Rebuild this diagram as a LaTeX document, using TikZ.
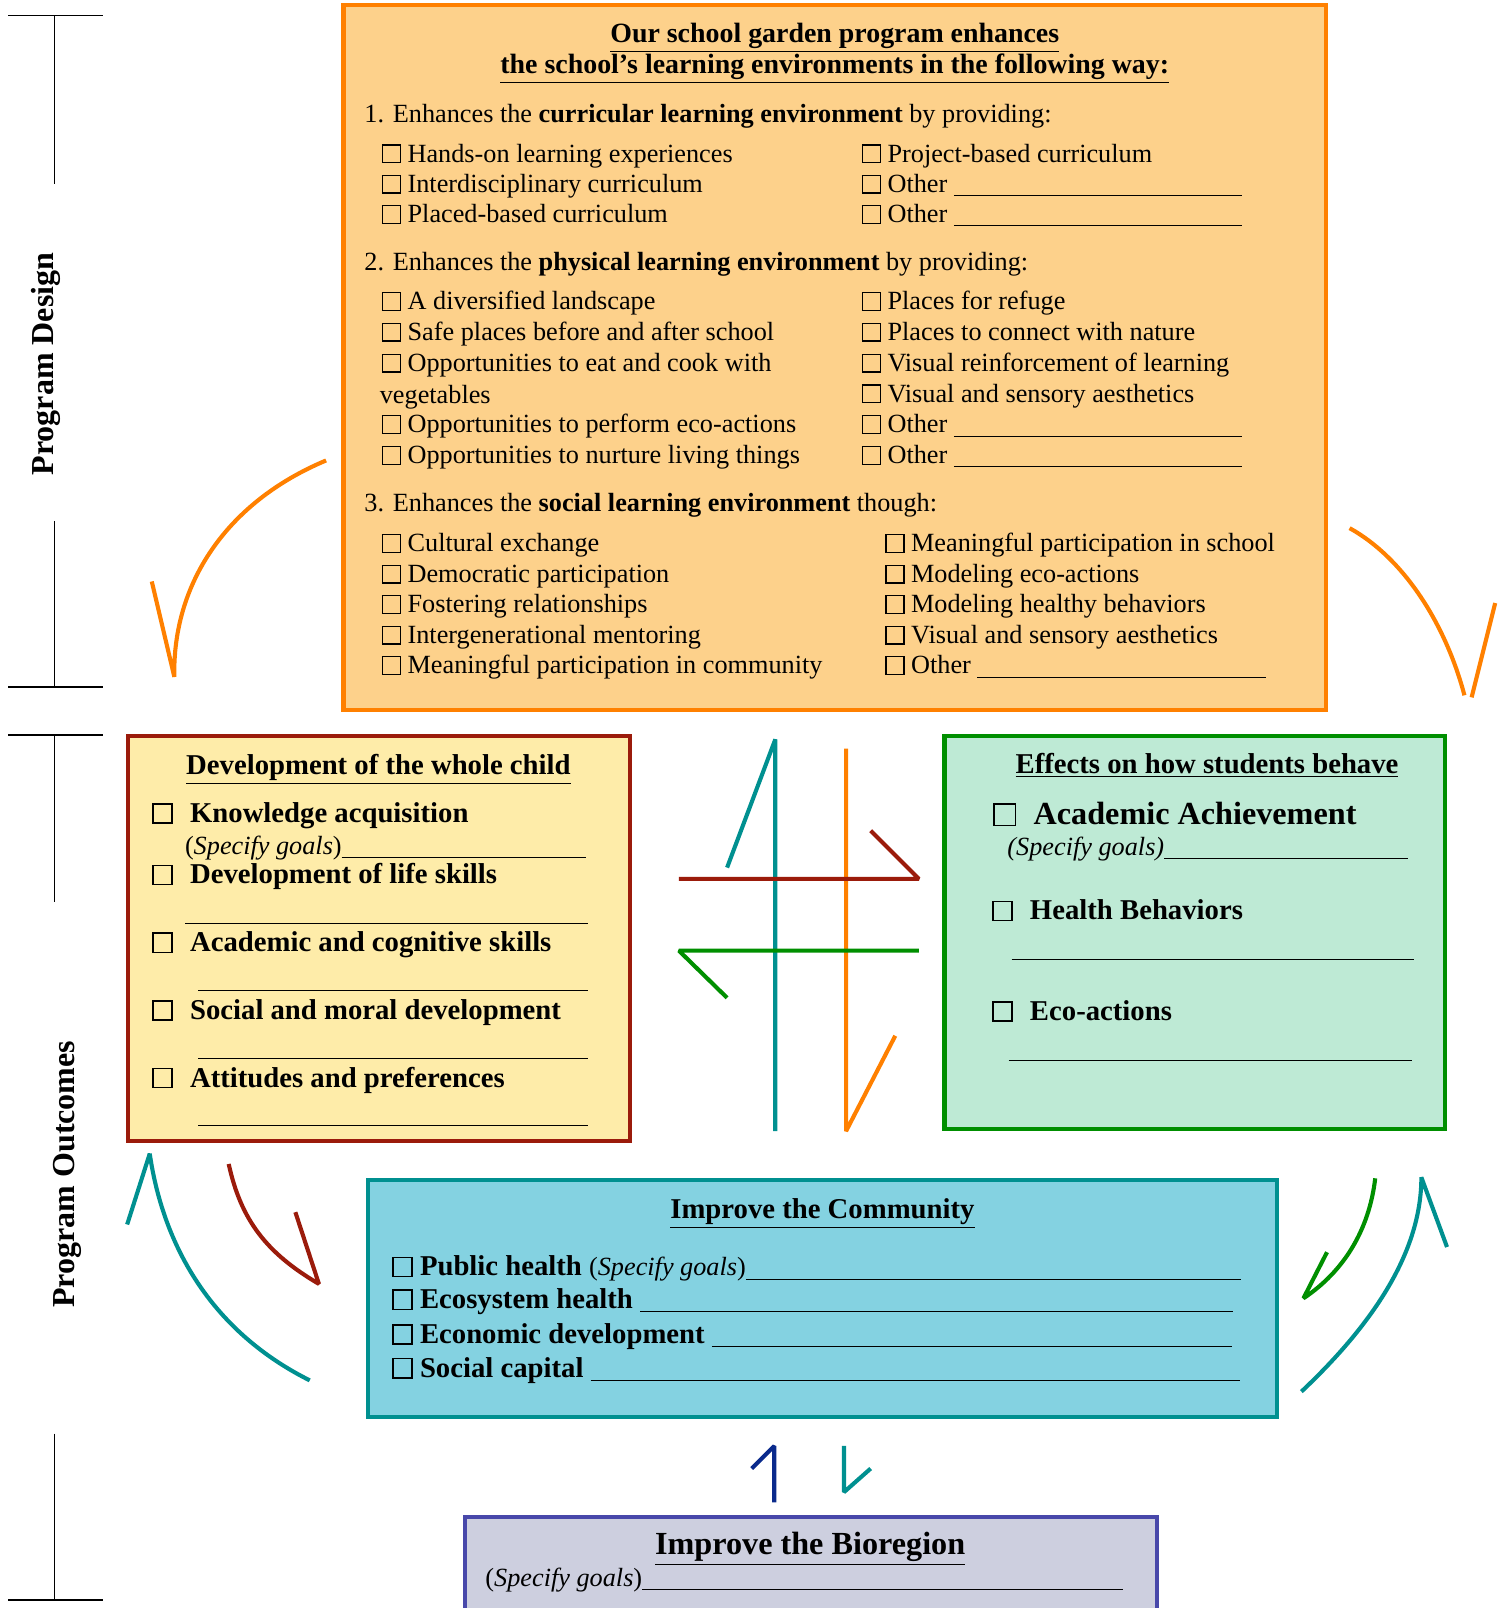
\documentclass[tikz,border=0pt]{standalone}
\usepackage{fontspec}
\setmainfont{Liberation Serif}
\usetikzlibrary{positioning}

\definecolor{envline}{HTML}{FF8000}
\definecolor{envfill}{HTML}{FDD18B}
\definecolor{kidline}{HTML}{9B1B0B}
\definecolor{kidfill}{HTML}{FEECA9}
\definecolor{behline}{HTML}{008F00}
\definecolor{behfill}{HTML}{BEEAD5}
\definecolor{comline}{HTML}{009090}
\definecolor{comfill}{HTML}{84D2E1}
\definecolor{bioline}{HTML}{4848AA}
\definecolor{biofill}{HTML}{CDCFDF}
\definecolor{bionavy}{HTML}{0A2A8C}

\newcommand{\cbx}{{\setlength{\fboxsep}{0pt}\setlength{\fboxrule}{0.7pt}\fbox{\rule{0pt}{0.62em}\hspace{0.62em}}}}
\newcommand{\gapline}{\leaders\hrule height -1.4pt depth 1.9pt\hfill}
\newcommand{\blank}[2]{\makebox[#1][l]{#2\gapline}}

\begin{document}
\begin{tikzpicture}[x=0.5pt,y=-0.5pt,
	box/.style={rectangle,inner sep=0pt,line width=2pt},
	item/.style={anchor=base west,inner sep=0pt,font=\fontsize{12.8}{15}\selectfont},
	head/.style={anchor=base,inner sep=0pt,font=\bfseries\fontsize{13.6}{16}\selectfont},
	kid/.style={anchor=base west,inner sep=0pt,font=\bfseries\fontsize{14}{16}\selectfont},
	com/.style={anchor=base west,inner sep=0pt,font=\bfseries\fontsize{14}{16}\selectfont},
	side/.style={rotate=90,inner sep=0pt,font=\bfseries\fontsize{15.6}{18}\selectfont},
	wire/.style={line width=2pt,line join=bevel},
	bracket/.style={line width=0.8pt}]
	\useasboundingbox (0,0) rectangle (1469,1568);

	% phase brackets on the left
	\draw[bracket] (8,15) -- (100,15);
	\draw[bracket] (53,15) -- (53,179);
	\draw[bracket] (53,508) -- (53,670);
	\draw[bracket] (8,670) -- (100,670);
	\draw[bracket] (8,717) -- (100,717);
	\draw[bracket] (53,717) -- (53,880);
	\draw[bracket] (53,1398) -- (53,1560);
	\draw[bracket] (8,1560) -- (100,1560);
	\node[side] (pd) at (45,355) {Program Design};
	\node[side] (po) at (66,1145) {Program Outcomes};

	% boxes
	\node[box,draw=envline,fill=envfill,minimum width=479pt,minimum height=343.5pt] (env) at (814,348.5) {};
	\node[box,draw=kidline,fill=kidfill,minimum width=244.5pt,minimum height=197.5pt] (kid) at (369.5,915.5) {};
	\node[box,draw=behline,fill=behfill,minimum width=244pt,minimum height=191.5pt] (beh) at (1165,909.5) {};
	\node[box,draw=comline,fill=comfill,minimum width=443pt,minimum height=115.5pt] (com) at (802,1266.5) {};
	\node[box,draw=bioline,fill=biofill,minimum width=337.5pt,minimum height=60.5pt] (bio) at (790.5,1539.5) {};

	% learning environments
	\node[head] (envt1) at (814,41) {\underline{Our school garden program enhances}};
	\node[head] (envt2) at (814,72) {\underline{the school’s learning environments in the following way:}};

	\node[item] (sec1) at (355,119) {1. Enhances the \textbf{curricular learning environment} by providing:};
	\foreach \t [count=\i from 0] in {Hands-on learning experiences, Interdisciplinary curriculum, Placed-based curriculum}
		\node[item] (cur\i) at (372,{158+29.5*\i}) {\cbx\ \t};
	\foreach \t [count=\i from 0] in {Project-based curriculum, {\blank{173pt}{Other }}, {\blank{173pt}{Other }}}
		\node[item] (curr\i) at (840,{158+29.5*\i}) {\cbx\ \t};

	\node[item] (sec2) at (355,264) {2. Enhances the \textbf{physical learning environment} by providing:};
	\foreach \y/\t in {0/A diversified landscape, 1/Safe places before and after school, 2/Opportunities to eat and cook with, 4/Opportunities to perform eco-actions, 5/Opportunities to nurture living things}
		\node[item] (phy\y) at (372,{302+30*\y}) {\cbx\ \t};
	\node[item] (phy3) at (370,393) {vegetables};
	\foreach \t [count=\i from 0] in {Places for refuge, Places to connect with nature, Visual reinforcement of learning, Visual and sensory aesthetics, {\blank{173pt}{Other }}, {\blank{173pt}{Other }}}
		\node[item] (phyr\i) at (840,{302+30*\i}) {\cbx\ \t};

	\node[item] (sec3) at (355,499) {3. Enhances the \textbf{social learning environment} though:};
	\foreach \t [count=\i from 0] in {Cultural exchange, Democratic participation, Fostering relationships, Intergenerational mentoring, Meaningful participation in community}
		\node[item] (soc\i) at (372,{538+29.75*\i}) {\cbx\ \t};
	\foreach \t [count=\i from 0] in {Meaningful participation in school, Modeling eco-actions, Modeling healthy behaviors, Visual and sensory aesthetics, {\blank{173pt}{Other }}}
		\node[item] (socr\i) at (863,{538+29.75*\i}) {\cbx\ \t};

	% whole child
	\node[head,font=\bfseries\fontsize{14}{16}\selectfont] (kidt) at (369,755) {\underline{Development of the whole child}};
	\node[kid] (kid1) at (148,802) {\cbx\hspace{0.6em}Knowledge acquisition};
	\node[item] (kid1g) at (180,833) {\blank{195.5pt}{(\textit{Specify goals})}};
	\node[kid] (kid2) at (148,862) {\cbx\hspace{0.6em}Development of life skills};
	\node[item] (kid2g) at (180,897.5) {\blank{196.5pt}{}};
	\node[kid] (kid3) at (148,928) {\cbx\hspace{0.6em}Academic and cognitive skills};
	\node[item] (kid3g) at (193,962.5) {\blank{190pt}{}};
	\node[kid] (kid4) at (148,994) {\cbx\hspace{0.6em}Social and moral development};
	\node[item] (kid4g) at (193,1028.5) {\blank{190pt}{}};
	\node[kid] (kid5) at (148,1060) {\cbx\hspace{0.6em}Attitudes and preferences};
	\node[item] (kid5g) at (193,1094.5) {\blank{190pt}{}};

	% behaviour
	\node[head,font=\bfseries\fontsize{14}{16}\selectfont] (beht) at (1177,754) {\underline{Effects on how students behave}};
	\node[kid,font=\bfseries\fontsize{15.7}{18}\selectfont] (beh1) at (968,804) {\cbx\hspace{0.55em}Academic Achievement};
	\node[item] (beh1g) at (982,834) {\blank{195.5pt}{\textit{(Specify goals)}}};
	\node[kid] (beh2) at (967,897) {\cbx\hspace{0.6em}Health Behaviors};
	\node[item] (beh2g) at (986,932.5) {\blank{196pt}{}};
	\node[kid] (beh3) at (967,995) {\cbx\hspace{0.6em}Eco-actions};
	\node[item] (beh3g) at (983,1030.5) {\blank{196.5pt}{}};

	% community
	\node[head,font=\bfseries\fontsize{14}{16}\selectfont] (comt) at (802,1188) {\underline{Improve the Community}};
	\node[com] (com1) at (382,1244) {\blank{414pt}{\cbx\ Public health {\mdseries\fontsize{12.8}{15}\selectfont(\textit{Specify goals})}}};
	\node[com] (com2) at (382,1276) {\blank{410pt}{\cbx\ Ecosystem health }};
	\node[com] (com3) at (382,1310) {\blank{409.5pt}{\cbx\ Economic development }};
	\node[com] (com4) at (382,1343) {\blank{413.5pt}{\cbx\ Social capital }};

	% bioregion
	\node[head,font=\bfseries\fontsize{15.7}{18}\selectfont] (biot) at (790,1516) {\underline{Improve the Bioregion}};
	\node[item] (bio1) at (473,1547) {\blank{311pt}{(\textit{Specify goals})}};

	% arrow ends
	\coordinate (o1s) at (318,449);  \coordinate (o1t) at (170,660);  \coordinate (o1b) at (148,567);
	\coordinate (o2s) at (1316,515); \coordinate (o2t) at (1428,678); \coordinate (o2a) at (1435,680); \coordinate (o2b) at (1458,588);
	\coordinate (cut) at (756,721);  \coordinate (cub) at (756,1103); \coordinate (cuw) at (709,846);
	\coordinate (cdt) at (825,730);  \coordinate (cdb) at (825,1103); \coordinate (cdw) at (873,1010);
	\coordinate (crl) at (662,857);  \coordinate (crr) at (896,857);  \coordinate (crw) at (849,810);
	\coordinate (cll) at (662,927);  \coordinate (clr) at (896,927);  \coordinate (clw) at (709,973);
	\coordinate (r1s) at (223,1135); \coordinate (r1t) at (311,1252); \coordinate (r1b) at (288,1182);
	\coordinate (t1s) at (302,1346); \coordinate (t1t) at (146,1125); \coordinate (t1b) at (124,1194);
	\coordinate (g1s) at (1341,1149);\coordinate (g1t) at (1271,1266);\coordinate (g1b) at (1294,1221);
	\coordinate (t2s) at (1269,1357);\coordinate (t2t) at (1386,1148);\coordinate (t2b) at (1411,1216);
	\coordinate (nus) at (755,1465); \coordinate (nut) at (755,1410); \coordinate (nub) at (733,1432);
	\coordinate (tds) at (823,1410); \coordinate (tdt) at (823,1455); \coordinate (tdb) at (849,1432);

	% arrows
	\draw[wire,envline] (o1s) .. controls (220,490) and (168,570) .. (o1t) -- (o1b);
	\draw[wire,envline] (o2s) .. controls (1370,545) and (1410,610) .. (o2t);
	\draw[wire,envline] (o2a) -- (o2b);
	\draw[wire,comline] (cub) -- (cut) -- (cuw);
	\draw[wire,envline] (cdt) -- (cdb) -- (cdw);
	\draw[wire,kidline] (crl) -- (crr) -- (crw);
	\draw[wire,behline] (clr) -- (cll) -- (clw);
	\draw[wire,kidline] (r1s) .. controls (235,1190) and (260,1222) .. (r1t) -- (r1b);
	\draw[wire,comline] (t1s) .. controls (210,1300) and (160,1220) .. (t1t) -- (t1b);
	\draw[wire,behline] (g1s) .. controls (1335,1200) and (1310,1240) .. (g1t) -- (g1b);
	\draw[wire,comline] (t2s) .. controls (1340,1290) and (1386,1220) .. (t2t) -- (t2b);
	\draw[wire,bionavy] (nus) -- (nut) -- (nub);
	\draw[wire,comline] (tds) -- (tdt) -- (tdb);
\end{tikzpicture}
\end{document}
